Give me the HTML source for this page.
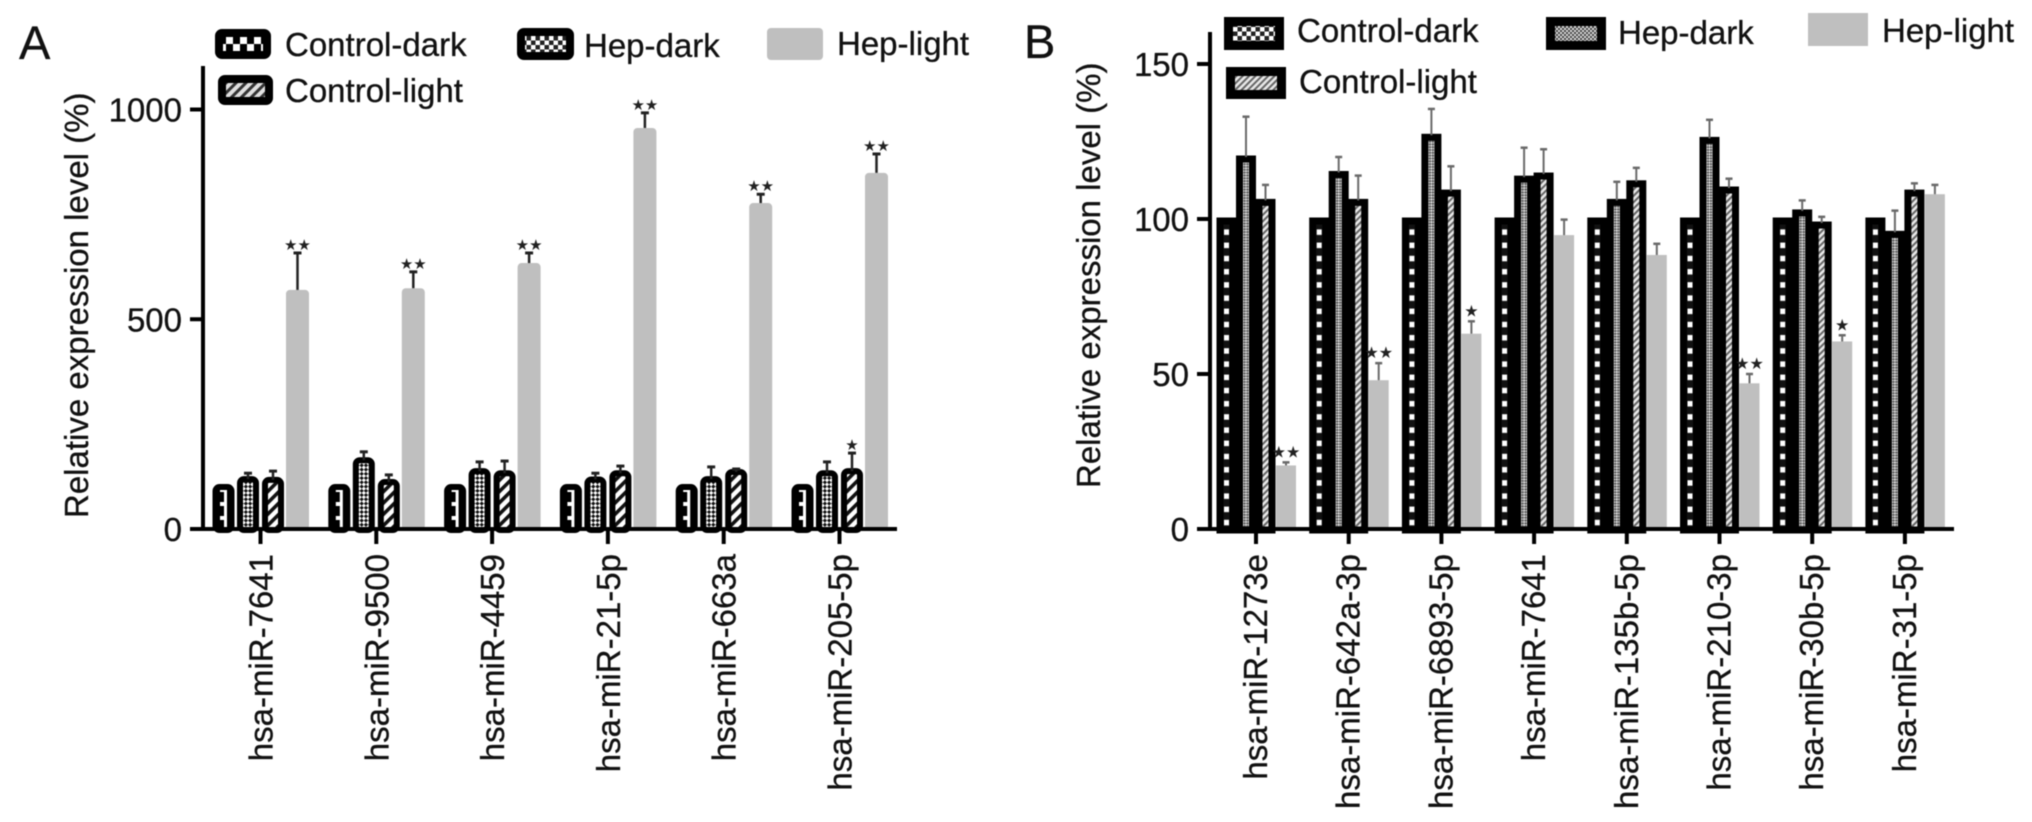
<!DOCTYPE html>
<html lang="en">
<head>
<meta charset="utf-8">
<title>Relative expression level of miRNAs</title>
<style>
html,body{margin:0;padding:0;background:#fff;}
svg{display:block;filter:blur(0.6px);}
text{font-family:"Liberation Sans",Arial,sans-serif;fill:#111;stroke:#111;stroke-width:0.3px;}
.lg{font-size:33px;}
.pl{font-size:47px;}
</style>
</head>
<body>
<svg id="figure" xmlns="http://www.w3.org/2000/svg" width="2032" height="822" viewBox="0 0 2032 822">
<defs>
  <pattern id="aCD" patternUnits="userSpaceOnUse" x="-5" y="0" width="10" height="14">
    <rect width="10" height="14" fill="#000"/><rect x="5.500" y="0" width="3" height="14" fill="#fff"/><rect x="1.500" y="1" width="4" height="4" fill="#fff"/>
  </pattern>
  <pattern id="aHD" patternUnits="userSpaceOnUse" width="6" height="6" patternTransform="rotate(45)">
    <rect width="6" height="6" fill="#111"/><rect width="3" height="3" fill="#fff"/><rect x="3" y="3" width="3" height="3" fill="#fff"/>
  </pattern>
  <pattern id="aCL" patternUnits="userSpaceOnUse" width="8" height="8" patternTransform="rotate(45)">
    <rect width="8" height="8" fill="#fff"/><rect width="3.6" height="8" fill="#111"/>
  </pattern>
  <pattern id="bCD" patternUnits="userSpaceOnUse" x="-3" y="0" width="6" height="13.2">
    <rect width="6" height="13.2" fill="#111"/><rect x="0.5" y="4" width="5" height="5.5" fill="#fff"/>
  </pattern>
  <pattern id="bHD" patternUnits="userSpaceOnUse" width="4" height="4" patternTransform="rotate(45)">
    <rect width="4" height="4" fill="#555"/><rect width="2" height="2" fill="#ddd"/><rect x="2" y="2" width="2" height="2" fill="#ddd"/>
  </pattern>
  <pattern id="bCL" patternUnits="userSpaceOnUse" width="4.5" height="4.5" patternTransform="rotate(45)">
    <rect width="4.5" height="4.5" fill="#e8e8e8"/><rect width="2" height="4.5" fill="#666"/>
  </pattern>
  <pattern id="lgCheck" patternUnits="userSpaceOnUse" x="226" y="37" width="14" height="14">
    <rect width="14" height="14" fill="#000"/><rect width="7" height="7" fill="#fff"/><rect x="7" y="7" width="7" height="7" fill="#fff"/>
  </pattern>
  <pattern id="lgDots" patternUnits="userSpaceOnUse" width="9" height="9">
    <rect width="9" height="9" fill="#222"/><rect width="4.5" height="4.5" fill="#fff"/><rect x="4.5" y="4.5" width="4.5" height="4.5" fill="#fff"/>
  </pattern>
  <pattern id="lgFine" patternUnits="userSpaceOnUse" width="4" height="4">
    <rect width="4" height="4" fill="#444"/><rect width="2" height="2" fill="#ddd"/><rect x="2" y="2" width="2" height="2" fill="#ddd"/>
  </pattern>
  <pattern id="lgStripe" patternUnits="userSpaceOnUse" width="7" height="7" patternTransform="rotate(45)">
    <rect width="7" height="7" fill="#e0e0e0"/><rect width="3" height="7" fill="#333"/>
  </pattern>
</defs>

<text class="pl" x="19" y="59">A</text>
<text class="pl" x="1024" y="58">B</text>

<g id="panelA"></g>
<g id="panelB"></g>

<g>
  <g>
    <rect x="219" y="33" width="48" height="22" rx="3" fill="url(#lgCheck)" stroke="#000" stroke-width="8"/>
    <text class="lg" x="285" y="56">Control-dark</text>
  </g>
  <g>
    <rect x="222" y="79" width="47" height="22" rx="3" fill="url(#lgStripe)" stroke="#000" stroke-width="8"/>
    <text class="lg" x="285" y="102">Control-light</text>
  </g>
  <g>
    <rect x="521" y="32" width="49" height="24" rx="3" fill="url(#lgDots)" stroke="#000" stroke-width="8"/>
    <text class="lg" x="584" y="57">Hep-dark</text>
  </g>
  <g>
    <rect x="767" y="28" width="56" height="32" rx="4" fill="#bfbfbf"/>
    <text class="lg" x="837" y="55">Hep-light</text>
  </g>
</g>

<g>
  <g>
    <rect x="1228.500" y="21.500" width="51" height="24" fill="url(#lgDots)" stroke="#000" stroke-width="9"/>
    <text class="lg" x="1297" y="42">Control-dark</text>
  </g>
  <g>
    <rect x="1230.500" y="71.500" width="51" height="23" fill="url(#bCL)" stroke="#000" stroke-width="9"/>
    <text class="lg" x="1299" y="93">Control-light</text>
  </g>
  <g>
    <rect x="1550.500" y="21.500" width="51" height="24" fill="url(#lgFine)" stroke="#000" stroke-width="9"/>
    <text class="lg" x="1618" y="44">Hep-dark</text>
  </g>
  <g>
    <rect x="1808" y="13" width="60" height="33" fill="#bfbfbf"/>
    <text class="lg" x="1882" y="42">Hep-light</text>
  </g>
</g>
</svg>

<script>
// Panel A data
const categoriesA = ['hsa-miR-7641','hsa-miR-9500','hsa-miR-4459','hsa-miR-21-5p','hsa-miR-663a','hsa-miR-205-5p'];
const controlDarkA = [100,100,100,100,100,100];
const hepDarkA = [119,164,138,118,119,133];
const controlLightA = [117,112,133,133,136,138];
const hepLightA = [570,574,634,956,777,849];
const hepDarkErrA = [14,20,22,15,29,27];
const controlLightErrA = [21,17,29,17,7,43];
const hepLightErrA = [88,39,24,36,21,45];
const controlLightSigA = ['','','','','','*'];
const hepLightSigA = ['**','**','**','**','**','**'];
const yTicksA = [0,500,1000];

// Panel B data
const categoriesB = ['hsa-miR-1273e','hsa-miR-642a-3p','hsa-miR-6893-5p','hsa-miR-7641','hsa-miR-135b-5p','hsa-miR-210-3p','hsa-miR-30b-5p','hsa-miR-31-5p'];
const controlDarkB = [100,100,100,100,100,100,100,100];
const hepDarkB = [120,115,127,113.5,106,126,102.6,95.7];
const controlLightB = [106,106,109,114.5,112,110,98.7,109];
const hepLightB = [20.5,48,63,94.8,88.4,47,60.5,108];
const hepDarkErrB = [13,5,8.5,9.5,6,6,3.4,7];
const controlLightErrB = [5,8,8,8,4.5,3,2,2.5];
const hepLightErrB = [1,5.5,4,5,3.6,3,2,3];
const controlLightSigB = ['','','','','','','',''];
const hepLightSigB = ['**','**','*','','','**','*',''];
const yTicksB = [0,50,100,150];

const SVGNS = 'http://www.w3.org/2000/svg';
function add(parent, tag, attrs, txt) {
  const el = document.createElementNS(SVGNS, tag);
  for (const k in attrs) el.setAttribute(k, attrs[k]);
  if (txt !== undefined) el.textContent = txt;
  parent.appendChild(el);
  return el;
}

function drawPanel(root, o) {
  const yScale = v => o.base - v * o.pxPerUnit;
  const xScale = i => o.x0 + i * o.pitch;

  // bars
  o.series.forEach(s => {
    s.values.forEach((v, i) => {
      const cx = xScale(i) + s.offset;
      const group = add(root, 'g', {transform: 'translate(' + cx + ',' + o.base + ')'});
      
      
      const h = o.base - yScale(v);
      const bar = add(group, 'rect', s.plain
        ? {x: -o.plainW / 2, y: -h, width: o.plainW, height: h + 1, rx: o.rx, fill: '#bfbfbf'}
        : {x: -o.barW / 2, y: -h + o.barInset, width: o.barW, height: h - o.barInset + 1, rx: o.rx, fill: 'url(#' + s.pattern + ')', stroke: '#000', 'stroke-width': o.strokeW});
      
      
    });
  });

  // error bars and significance stars
  o.series.forEach(s => {
    if (!s.err) return;
    s.err.forEach((e, i) => {
      const cx = xScale(i) + s.offset;
      const top = yScale(s.values[i] + e);
      const start = yScale(s.values[i]);
      const stem = add(root, 'line', {x1: cx, x2: cx, y1: start, y2: top, stroke: o.errColor, 'stroke-width': o.errW});
      
      
      const cap = add(root, 'line', {x1: cx - o.capW / 2, x2: cx + o.capW / 2, y1: top, y2: top, stroke: o.errColor, 'stroke-width': o.errW + 0.5});
      
      
      const mark = s.sig && s.sig[i];
      if (mark) {
        const t = add(root, 'text', {x: cx, y: top - o.starGap, 'text-anchor': 'middle', style: 'font-family:"DejaVu Sans",sans-serif;font-size:' + o.starSize + 'px;fill:#222;stroke:none'}, mark.replace(/\*/g, '\u2605'));
        
        
      }
    });
  });

  // y axis
  const yAxis = add(root, 'line', {x1: o.axisX, x2: o.axisX, y1: o.axisTop, y2: o.base + 2, stroke: '#000', 'stroke-width': 4});
  
  
  o.yTicks.forEach(v => {
    const tick = add(root, 'line', {x1: o.axisX - 13, x2: o.axisX, y1: yScale(v), y2: yScale(v), stroke: '#000', 'stroke-width': 4});
    
    
    const label = add(root, 'text', {x: o.axisX - 21, y: yScale(v) + 12, 'text-anchor': 'end', 'font-size': 33}, String(v));
    
    
  });

  // x axis
  const xAxis = add(root, 'line', {x1: o.axisX - 13, x2: o.axisEnd, y1: o.base, y2: o.base, stroke: '#000', 'stroke-width': 4});
  
  
  o.categories.forEach((c, i) => {
    const x = xScale(i);
    const tick = add(root, 'line', {x1: x, x2: x, y1: o.base, y2: o.base + 15, stroke: '#000', 'stroke-width': 4});
    
    
    const label = add(root, 'text', {transform: 'translate(' + (x + o.labelShift) + ',554) rotate(-90)', 'text-anchor': 'end', 'font-size': 33}, c);
    
    
  });

  // y title
  const title = add(root, 'text', {transform: 'translate(' + o.titleX + ',' + o.titleY + ') rotate(-90)', 'font-size': 33}, 'Relative expression level (%)');
  
  
}

drawPanel(document.getElementById('panelA'), {
  categories: categoriesA, yTicks: yTicksA,
  base: 529, pxPerUnit: 0.4195, x0: 260.5, pitch: 115.8,
  axisX: 203, axisTop: 66, axisEnd: 897,
  barW: 16, strokeW: 6, barInset: 0, plainW: 23, rx: 4,
  errColor: '#222', errW: 2.5, capW: 8, starGap: 3, starSize: 15,
  labelShift: 12, titleX: 88, titleY: 518,
  series: [
    {values: controlDarkA, offset: -37, pattern: 'aCD'},
    {values: hepDarkA, err: hepDarkErrA, offset: -12.5, pattern: 'aHD'},
    {values: controlLightA, err: controlLightErrA, sig: controlLightSigA, offset: 12.5, pattern: 'aCL'},
    {values: hepLightA, err: hepLightErrA, sig: hepLightSigA, offset: 37, plain: true}
  ]
});

drawPanel(document.getElementById('panelB'), {
  categories: categoriesB, yTicks: yTicksB,
  base: 529, pxPerUnit: 3.1, x0: 1256, pitch: 92.7,
  axisX: 1210, axisTop: 32, axisEnd: 1954,
  barW: 13, strokeW: 7, barInset: 2, plainW: 20, rx: 0,
  errColor: '#6a6a6a', errW: 2, capW: 7, starGap: 5, starSize: 16,
  labelShift: 11, titleX: 1100, titleY: 488,
  series: [
    {values: controlDarkB, offset: -29.5, pattern: 'bCD'},
    {values: hepDarkB, err: hepDarkErrB, offset: -10, pattern: 'bHD'},
    {values: controlLightB, err: controlLightErrB, sig: controlLightSigB, offset: 9.5, pattern: 'bCL'},
    {values: hepLightB, err: hepLightErrB, sig: hepLightSigB, offset: 30, plain: true}
  ]
});
</script>
</body>
</html>
